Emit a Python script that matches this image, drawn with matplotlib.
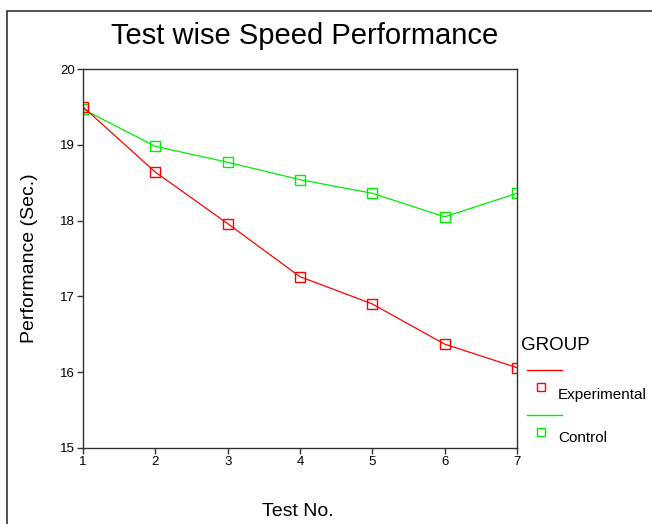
import matplotlib
matplotlib.use("Agg")
import matplotlib.pyplot as plt
from matplotlib.lines import Line2D
from matplotlib.patches import Rectangle

plt.rcParams['font.family'] = ['Liberation Sans', 'DejaVu Sans']

tests = [1, 2, 3, 4, 5, 6, 7]
experimental = [19.50, 18.64, 17.96, 17.26, 16.90, 16.37, 16.06]
control = [19.47, 18.98, 18.77, 18.54, 18.36, 18.05, 18.36]
yticks = [15, 16, 17, 18, 19, 20]

W, H = 652, 524
fig = plt.figure(figsize=(W/100, H/100), dpi=100)
fig.patch.set_facecolor('white')

# outer frame (left and top visible)
fig.add_artist(Rectangle((7/W, -0.1), 1.2, 1.1 - 11/H, transform=fig.transFigure,
                         fill=False, edgecolor='#333333', linewidth=1.2))

ax = fig.add_axes([83/W, 1 - 448/H, (517-83)/W, (448-69)/H])
ax.plot(tests, control, color='#00ee00', lw=0.9, marker='s', ms=7.5,
        mfc='none', mec='#00ee00', mew=1.0)
ax.plot(tests, experimental, color='#ff0000', lw=0.9, marker='s', ms=7.5,
        mfc='none', mec='#ff0000', mew=1.0)
ax.set_xlim(1, 7)
ax.set_ylim(15, 20)
ax.set_xticks(tests)
ax.set_yticks(yticks)
ax.tick_params(direction='out', length=4, width=1, labelsize=9.5, pad=2, color='#333333')
for s in ax.spines.values():
    s.set_color('#333333')
    s.set_linewidth(1.0)

fig.text(305/W, 1 - 36/H, 'Test wise Speed Performance', ha='center', va='center', fontsize=21)
fig.text(298/W, 1 - 511/H, 'Test No.', ha='center', va='center', fontsize=14)
fig.text(30/W, 1 - 258/H, 'Performance (Sec.)', ha='center', va='center', fontsize=14, rotation=90)

# legend
fig.text(521/W, 1 - 346/H, 'GROUP', ha='left', va='center', fontsize=13.5)
fig.add_artist(Line2D([527/W, 562/W], [1 - 370/H, 1 - 370/H], color='#ff0000', lw=1.0))
fig.add_artist(Line2D([541/W], [1 - 387/H], marker='s', ms=6, mfc='none', mec='#ff0000', mew=1.0, lw=0))
fig.text(558/W, 1 - 395/H, 'Experimental', ha='left', va='center', fontsize=11)
fig.add_artist(Line2D([527/W, 562/W], [1 - 415/H, 1 - 415/H], color='#00ee00', lw=1.0))
fig.add_artist(Line2D([541/W], [1 - 432/H], marker='s', ms=6, mfc='none', mec='#00ee00', mew=1.0, lw=0))
fig.text(558/W, 1 - 438/H, 'Control', ha='left', va='center', fontsize=11)

fig.savefig('out.png', dpi=100)
